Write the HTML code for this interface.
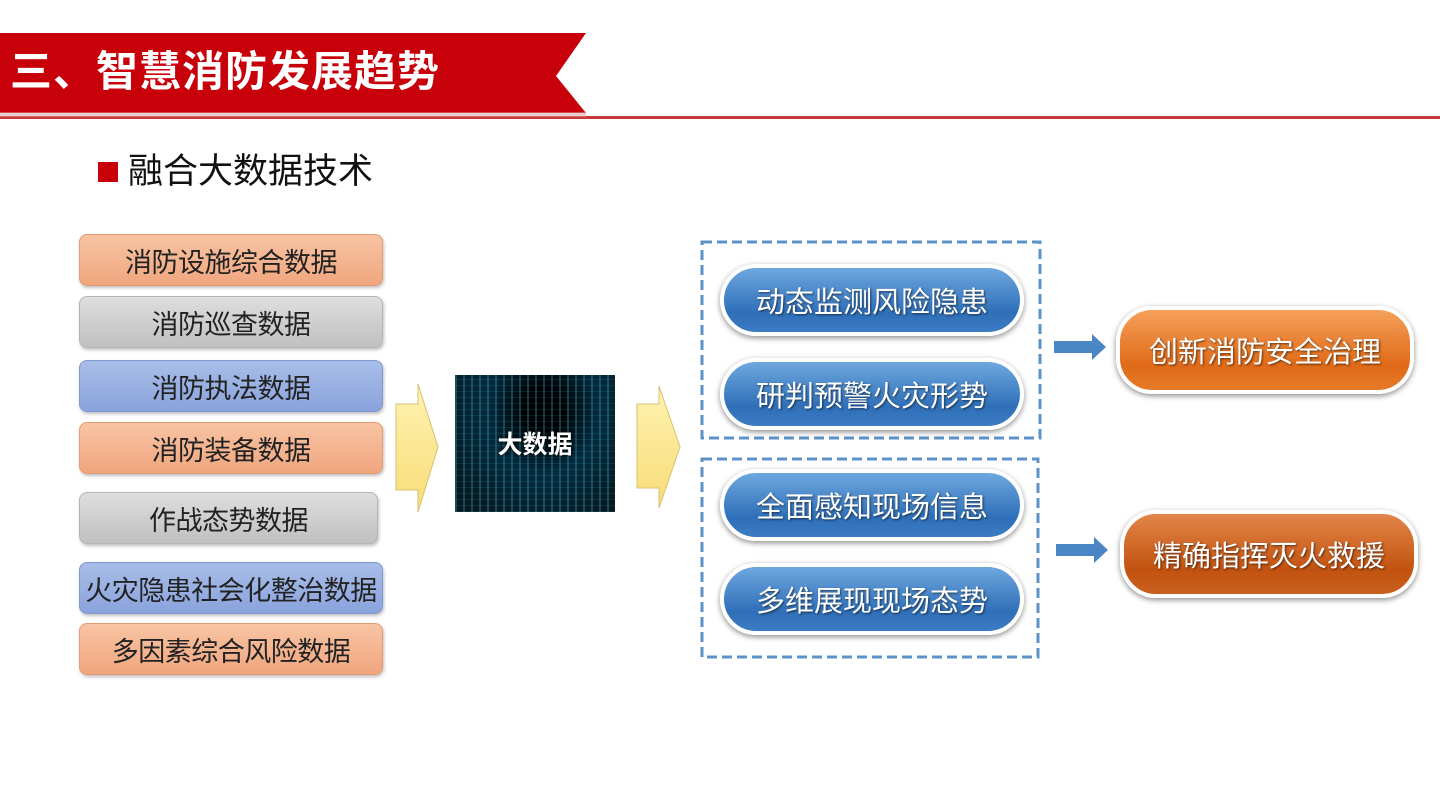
<!DOCTYPE html>
<html><head><meta charset="utf-8"><style>
body{margin:0;width:1440px;height:810px;background:#fff;position:relative;overflow:hidden;font-family:"Liberation Sans","Noto Sans CJK SC",sans-serif}
.a{position:absolute}
.lb{position:absolute;left:79px;width:302px;height:50px;border-radius:8px;font-size:27px;color:#222;display:flex;align-items:center;justify-content:center;box-shadow:1px 2px 3px rgba(0,0,0,.25);white-space:nowrap;letter-spacing:-0.5px}
.or{background:linear-gradient(#f8c4a4,#f0a67e);border:1px solid #e49a72}
.gr{background:linear-gradient(#dedede,#c0c0c0);border:1px solid #b5b5b5}
.bl{background:linear-gradient(#a8bde8,#8aa3dc);border:1px solid #7f98d2}
.pill{position:absolute;border-radius:36px;color:#fff;font-size:29px;display:flex;align-items:center;justify-content:center;text-shadow:1px 1px 2px rgba(0,0,0,.6);border:4px solid #fff;box-shadow:0 2px 6px rgba(0,0,0,.45)}
.blue{background:linear-gradient(#6fa8e0,#2f6fb8 70%,#3c7cc4);}
.orng{background:linear-gradient(#f5a05a,#e06a18 70%,#e57a28)}
.dorng{background:linear-gradient(#e3864a,#c2520f 70%,#c9601e)}
</style></head><body>
<svg class="a" style="left:0;top:0" width="1440" height="130">
<polygon points="0,33 586,33 556,76 586,113 0,113" fill="#c8000a"/>
<rect x="0" y="116" width="1440" height="3" fill="#c83a3a"/>
<rect x="0" y="112" width="586" height="5" fill="#d9a0a0" opacity=".5"/>
</svg>
<div class="a" style="left:10px;top:44px;font-size:42px;font-weight:bold;color:#fff;line-height:56px;letter-spacing:1px">三、智慧消防发展趋势</div>
<div class="a" style="left:98px;top:162px;width:20px;height:20px;background:#c8000a"></div>
<div class="a" style="left:128px;top:149px;font-size:35px;color:#111;line-height:46px">融合大数据技术</div>

<div class="lb or" style="top:234px">消防设施综合数据</div>
<div class="lb gr" style="top:296px">消防巡查数据</div>
<div class="lb bl" style="top:360px">消防执法数据</div>
<div class="lb or" style="top:422px">消防装备数据</div>
<div class="lb gr" style="top:492px;width:297px">作战态势数据</div>
<div class="lb bl" style="top:562px">火灾隐患社会化整治数据</div>
<div class="lb or" style="top:623px">多因素综合风险数据</div>

<svg class="a" style="left:0;top:0" width="1440" height="810">
<defs><linearGradient id="y" x1="0" x2="0" y1="0" y2="1"><stop offset="0" stop-color="#fff3b0"/><stop offset="1" stop-color="#f7dc78"/></linearGradient></defs>
<polygon points="396,404 418,404 418,384 438,447 418,512 418,490 396,490" fill="url(#y)" stroke="#d9c070"/>
<polygon points="637,404 659,404 659,386 680,447 659,508 659,488 637,488" fill="url(#y)" stroke="#d9c070"/>
<rect x="702" y="242" width="338" height="196" fill="none" stroke="#5b93c9" stroke-width="3" stroke-dasharray="10,5"/>
<rect x="702" y="459" width="336" height="198" fill="none" stroke="#5b93c9" stroke-width="3" stroke-dasharray="10,5"/>
<polygon points="1054,341 1092,341 1092,334 1106,347 1092,360 1092,353 1054,353" fill="#4a86c6"/>
<polygon points="1056,544 1094,544 1094,537 1108,550 1094,563 1094,556 1056,556" fill="#4a86c6"/>
</svg>
<div class="a" style="left:455px;top:375px;width:160px;height:137px;background:radial-gradient(ellipse at 55% 25%,#000 15%,#062a3c 45%,#081820 85%);overflow:hidden">
<div class="a" style="left:0;top:0;width:160px;height:137px;background:repeating-linear-gradient(90deg,rgba(60,200,230,.28) 0 2px,transparent 2px 8px),repeating-linear-gradient(0deg,rgba(60,200,230,.12) 0 1px,transparent 1px 6px)"></div>
<div class="a" style="left:0;top:50px;width:160px;text-align:center;color:#fff;font-size:25px;font-weight:bold;text-shadow:0 0 4px #000">大数据</div>
</div>

<div class="pill blue" style="left:720px;top:264px;width:296px;height:64px">动态监测风险隐患</div>
<div class="pill blue" style="left:720px;top:358px;width:296px;height:64px">研判预警火灾形势</div>
<div class="pill blue" style="left:720px;top:469px;width:296px;height:64px">全面感知现场信息</div>
<div class="pill blue" style="left:720px;top:563px;width:296px;height:64px">多维展现现场态势</div>
<div class="pill orng" style="left:1116px;top:306px;width:290px;height:80px">创新消防安全治理</div>
<div class="pill dorng" style="left:1120px;top:510px;width:290px;height:80px">精确指挥灭火救援</div>
</body></html>
